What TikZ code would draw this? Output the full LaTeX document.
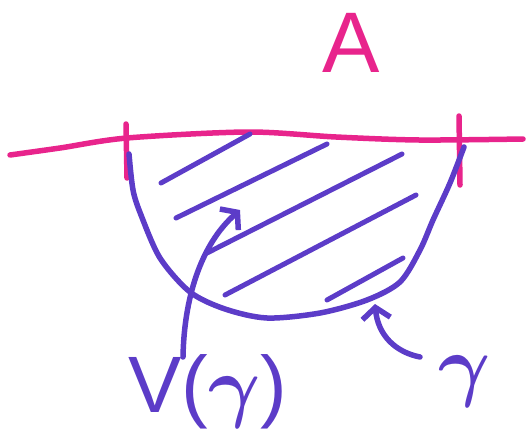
\RequirePackage{fix-cm}
\documentclass[tikz,border=0pt]{standalone}
\usepackage{bm}
\usepackage{fontspec}
\setmainfont{Liberation Sans}
\usetikzlibrary{arrows.meta}
\definecolor{marker}{RGB}{232,36,140}
\definecolor{ink}{RGB}{92,60,200}

\begin{document}
\begin{tikzpicture}[
  x=1pt, y=-1pt, line cap=round, line join=round,
  border/.style={draw=marker, line width=5.5pt},
  curve/.style={draw=ink, line width=5.5pt},
  hatch/.style={draw=ink, line width=5pt},
  ptr/.style={draw=ink, line width=5.5pt,
              -{Straight Barb[length=11pt, width=28pt, line width=5.5pt]}},
  lbl/.style={text=ink, inner sep=0pt, anchor=base,
              font=\fontsize{80}{80}\selectfont}]
\useasboundingbox (0,0) rectangle (526,444);
\node[lbl, text=marker, font=\fontsize{86}{86}\selectfont] (alabel) at (351,72) {A};
\draw[border] plot[smooth] coordinates {(10,155) (60,148) (127,138) (248,132)
  (336,137) (419,140) (523,139)};
\draw[border] (126,124) -- (127,178);
\draw[border] (459,116) -- (460,185);
\draw[curve] plot[smooth] coordinates {(129,154) (133,190) (141,215) (160,258)
  (190,292) (225,309) (267,318) (320,313) (367,300) (400,282) (420,250)
  (433,220) (450,183) (464,147)};
\draw[hatch] (161,183) -- (250,134);
\draw[hatch] (176,218) -- (327,144);
\draw[hatch] (207,253) -- (402,154);
\draw[hatch] (225,295) -- (416,195);
\draw[hatch] (327,300) -- (403,258);
\node[lbl] (vlbl) at (208,412) {V($\bm{\gamma}$)};
\node[lbl] (glbl) at (465,391) {$\bm{\gamma}$};
\coordinate (vfoot) at (183,357);
\coordinate (vtip) at (240,210);
\coordinate (gfoot) at (420,357);
\coordinate (gtip) at (375,304);
\draw[ptr] (vfoot) .. controls (184,300) and (200,245) .. (vtip);
\draw[ptr] (gfoot) .. controls (395,352) and (378,335) .. (gtip);
\end{tikzpicture}
\end{document}
